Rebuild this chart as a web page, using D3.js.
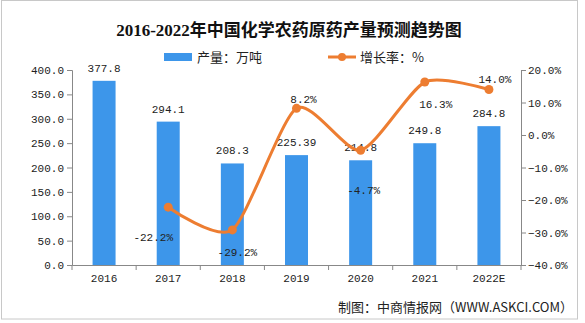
<!DOCTYPE html>
<html><head><meta charset="utf-8">
<script src="https://cdn.jsdelivr.net/npm/d3@7"></script>
<style>
html,body{margin:0;padding:0;background:#fff;}
svg{display:block;}
</style></head>
<body>
<script>
const categories = ["2016","2017","2018","2019","2020","2021","2022E"];
const production = [377.8, 294.1, 208.3, 225.39, 214.8, 249.8, 284.8];
const productionLabels = ["377.8","294.1","208.3","225.39","214.8","249.8","284.8"];
const growth = [null, -22.2, -29.2, 8.2, -4.7, 16.3, 14.0];
const growthLabels = [null, "-22.2%", "-29.2%", "8.2%", "-4.7%", "16.3%", "14.0%"];
const leftTicks = [0,50,100,150,200,250,300,350,400];
const rightTicks = [-40,-30,-20,-10,0,10,20];
const title = "2016-2022年中国化学农药原药产量预测趋势图";
const legendBar = "产量：万吨";
const legendLine = "增长率：%";
const footer = "制图：中商情报网（WWW.ASKCI.COM）";
// label offsets (style) relative to points
const growthLabelOffsets = [null,[-15,30],[5,22],[7,-9],[3,40],[11,22],[6,-11]];

const W=585,H=323;
const m={l:72,r:64,t:70,b:58};
const svg=d3.select("body").append("svg").attr("width",W).attr("height",H);
svg.append("rect").attr("x",1.5).attr("y",0.5).attr("width",576).attr("height",318.5)
  .attr("fill","#fff").attr("stroke","#c8c8c8");

const x=d3.scaleBand().domain(categories).range([m.l,W-m.r]);
const yL=d3.scaleLinear().domain([0,400]).range([H-m.b,m.t]);
const yR=d3.scaleLinear().domain([-40,20]).range([H-m.b,m.t]);
const mono="'Liberation Mono','DejaVu Sans Mono',monospace";
const txt="#222";

// title
svg.append("text").attr("x",289).attr("y",36).attr("text-anchor","middle")
  .attr("font-family","'Liberation Serif','Noto Sans CJK SC',serif").attr("font-weight","bold")
  .attr("font-size",17).attr("fill","#111").text(title);

// legend
svg.append("rect").attr("x",164).attr("y",53).attr("width",28).attr("height",8).attr("fill","#3d96ea");
svg.append("text").attr("x",197).attr("y",62).attr("font-family","'Noto Sans CJK SC',sans-serif")
  .attr("font-size",13).attr("fill",txt).text(legendBar);
svg.append("line").attr("x1",328).attr("x2",356).attr("y1",57).attr("y2",57)
  .attr("stroke","#ed7d31").attr("stroke-width",3);
svg.append("circle").attr("cx",342).attr("cy",57).attr("r",4).attr("fill","#ed7d31");
svg.append("text").attr("x",360).attr("y",62).attr("font-family","'Noto Sans CJK SC',sans-serif")
  .attr("font-size",13).attr("fill",txt).text(legendLine);

// axes
const axL=svg.append("g").attr("transform",`translate(${m.l},0)`)
  .call(d3.axisLeft(yL).tickValues(leftTicks).tickFormat(d3.format(".1f")).tickSize(5).tickPadding(3));
const axR=svg.append("g").attr("transform",`translate(${W-m.r},0)`)
  .call(d3.axisRight(yR).tickValues(rightTicks).tickFormat(d=>d3.format(".1f")(d)+"%").tickSize(5).tickPadding(2));
const axB=svg.append("g").attr("transform",`translate(0,${H-m.b})`)
  .call(d3.axisBottom(x).tickSize(0).tickPadding(9));
// boundary ticks on x axis
const bounds=categories.map(c=>x(c)).concat([x.range()[1]]);
axB.selectAll(".bt").data(bounds).join("line").attr("class","bt")
  .attr("x1",d=>d).attr("x2",d=>d).attr("y1",0).attr("y2",5).attr("stroke","#888");
[axL,axR,axB].forEach(a=>{
  a.selectAll("path.domain").attr("stroke","#888");
  a.selectAll(".tick line").attr("stroke","#888");
  a.selectAll("text").attr("font-family",mono).attr("font-size",11).attr("fill",txt);
});

// bars
const bw=23;
svg.append("g").selectAll("rect").data(production).join("rect")
  .attr("x",(d,i)=>x(categories[i])+x.bandwidth()/2-bw/2)
  .attr("y",d=>yL(d)).attr("width",bw).attr("height",d=>yL(0)-yL(d))
  .attr("fill","#3d96ea");
svg.append("g").selectAll("text").data(production).join("text")
  .attr("x",(d,i)=>x(categories[i])+x.bandwidth()/2)
  .attr("y",d=>yL(d)-9).attr("text-anchor","middle")
  .attr("font-family",mono).attr("font-size",11).attr("fill",txt)
  .text((d,i)=>productionLabels[i]);

// line
const pts=growth.map((g,i)=>g==null?null:[x(categories[i])+x.bandwidth()/2,yR(g),i]).filter(p=>p);
svg.append("path").datum(pts)
  .attr("d",d3.line().x(d=>d[0]).y(d=>d[1]).curve(d3.curveCardinal.tension(0.3)))
  .attr("fill","none").attr("stroke","#ed7d31").attr("stroke-width",3);
svg.append("g").selectAll("circle").data(pts).join("circle")
  .attr("cx",d=>d[0]).attr("cy",d=>d[1]).attr("r",4.5).attr("fill","#ed7d31");
svg.append("g").selectAll("text").data(pts).join("text")
  .attr("x",d=>d[0]+growthLabelOffsets[d[2]][0])
  .attr("y",d=>d[1]+growthLabelOffsets[d[2]][1]+4)
  .attr("text-anchor","middle").attr("font-family",mono).attr("font-size",11).attr("fill",txt)
  .text(d=>growthLabels[d[2]]);

// footer
svg.append("text").attr("x",573).attr("y",312).attr("text-anchor","end")
  .attr("font-family","'Noto Sans CJK SC',sans-serif").attr("font-size",13).attr("fill",txt).text(footer);
</script>
</body></html>
